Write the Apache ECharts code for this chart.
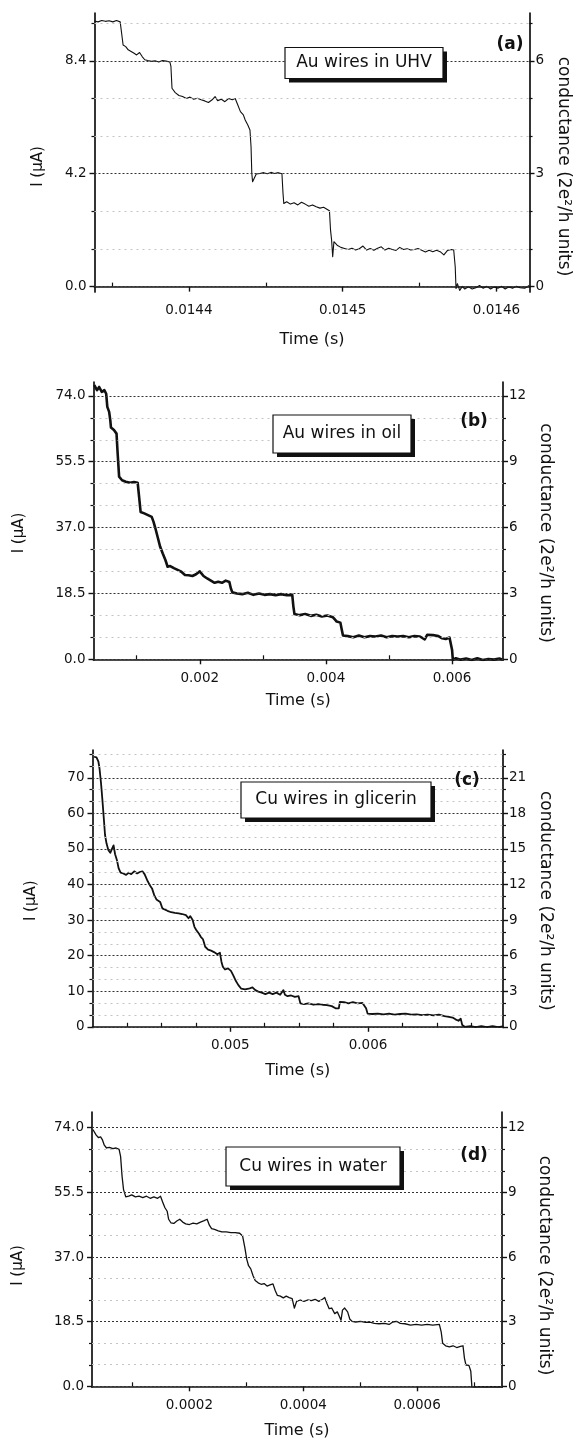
<!DOCTYPE html>
<html>
<head>
<meta charset="utf-8">
<title>Conductance steps in metallic nanowires</title>
<script src="https://cdn.jsdelivr.net/npm/echarts@6/dist/echarts.min.js"></script>
<style>
  html, body { margin: 0; padding: 0; background: #fff; }
  #chart { width: 580px; height: 1440px; }
</style>
</head>
<body>
<div id="chart"></div>
<script>
// ---- (a) Au wires in UHV : time (s), current (uA) ----
const aTime = [0.0143385, 0.0143409, 0.0143433, 0.0143457, 0.0143481, 0.0143505, 0.0143529, 0.0143553, 0.0143565, 0.0143572,
  0.0143589, 0.0143605, 0.0143624, 0.0143641, 0.0143660, 0.0143679, 0.0143696, 0.0143713, 0.0143732, 0.0143756,
  0.0143780, 0.0143804, 0.0143828, 0.0143852, 0.0143876, 0.0143883, 0.0143890, 0.0143911, 0.0143935, 0.0143959,
  0.0143983, 0.0144007, 0.0144031, 0.0144055, 0.0144079, 0.0144103, 0.0144127, 0.0144151, 0.0144170, 0.0144187,
  0.0144211, 0.0144234, 0.0144258, 0.0144282, 0.0144301, 0.0144318, 0.0144335, 0.0144354, 0.0144366, 0.0144383,
  0.0144397, 0.0144404, 0.0144409, 0.0144414, 0.0144426, 0.0144438, 0.0144462, 0.0144486, 0.0144510, 0.0144533,
  0.0144557, 0.0144581, 0.0144605, 0.0144612, 0.0144617, 0.0144636, 0.0144660, 0.0144684, 0.0144708, 0.0144732,
  0.0144756, 0.0144780, 0.0144804, 0.0144828, 0.0144852, 0.0144876, 0.0144900, 0.0144914, 0.0144921, 0.0144928,
  0.0144935, 0.0144943, 0.0144964, 0.0144988, 0.0145012, 0.0145036, 0.0145060, 0.0145084, 0.0145108, 0.0145132,
  0.0145156, 0.0145179, 0.0145203, 0.0145227, 0.0145251, 0.0145275, 0.0145299, 0.0145323, 0.0145347, 0.0145371,
  0.0145395, 0.0145419, 0.0145443, 0.0145467, 0.0145490, 0.0145514, 0.0145538, 0.0145562, 0.0145586, 0.0145610,
  0.0145634, 0.0145658, 0.0145682, 0.0145706, 0.0145722, 0.0145732, 0.0145737, 0.0145746, 0.0145761, 0.0145778,
  0.0145794, 0.0145818, 0.0145842, 0.0145866, 0.0145890, 0.0145914, 0.0145938, 0.0145962, 0.0145986, 0.0146010,
  0.0146033, 0.0146057, 0.0146081, 0.0146105, 0.0146129, 0.0146153, 0.0146184, 0.0146213];
const aCurrent = [9.88, 9.85, 9.90, 9.87, 9.89, 9.85, 9.90, 9.85, 9.80, 8.99,
  8.93, 8.81, 8.75, 8.69, 8.62, 8.71, 8.56, 8.44, 8.41, 8.38,
  8.40, 8.36, 8.41, 8.39, 8.36, 8.19, 7.38, 7.22, 7.11, 7.07,
  7.00, 7.05, 6.97, 7.01, 6.95, 6.91, 6.85, 6.95, 7.07, 6.92,
  6.97, 6.88, 7.00, 6.95, 7.00, 6.76, 6.51, 6.39, 6.20, 6.01,
  5.83, 5.21, 4.21, 3.90, 3.96, 4.19, 4.21, 4.24, 4.20, 4.25,
  4.21, 4.24, 4.20, 3.47, 3.09, 3.16, 3.07, 3.12, 3.04, 3.14,
  3.07, 2.99, 3.04, 2.97, 2.92, 2.95, 2.87, 2.82, 2.10, 1.73,
  1.11, 1.67, 1.54, 1.46, 1.42, 1.38, 1.43, 1.36, 1.41, 1.51,
  1.36, 1.42, 1.35, 1.43, 1.48, 1.36, 1.43, 1.38, 1.35, 1.46,
  1.38, 1.41, 1.36, 1.38, 1.42, 1.35, 1.29, 1.35, 1.30, 1.35,
  1.30, 1.18, 1.35, 1.38, 1.36, 0.73, -0.07, 0.11, -0.14, 0.01,
  -0.09, -0.01, -0.09, -0.04, 0.04, -0.06, 0.01, -0.09, -0.01, -0.06,
  0.01, -0.09, -0.01, -0.06, 0.01, -0.04, -0.06, 0.04];
const aTimeTicks = [0.0144, 0.0145, 0.0146];
const aTimeMinor = [0.01435, 0.01445, 0.01455];
const aCurrentTicks = [0, 4.2, 8.4];
const aCondTicks = [0, 3, 6];
const aCondMinor = [1, 2, 4, 5, 7];

// ---- (b) Au wires in oil ----
const bTime = [0.000328, 0.000370, 0.000405, 0.000446, 0.000487, 0.000516, 0.000534, 0.000563, 0.000581, 0.000592,
  0.000639, 0.000680, 0.000698, 0.000721, 0.000768, 0.000827, 0.000897, 0.000956, 0.001015, 0.001038,
  0.001062, 0.001120, 0.001179, 0.001238, 0.001267, 0.001296, 0.001337, 0.001372, 0.001413, 0.001455,
  0.001490, 0.001531, 0.001589, 0.001648, 0.001707, 0.001765, 0.001824, 0.001883, 0.001941, 0.002000,
  0.002059, 0.002117, 0.002176, 0.002235, 0.002293, 0.002352, 0.002411, 0.002469, 0.002493, 0.002516,
  0.002587, 0.002674, 0.002762, 0.002850, 0.002938, 0.003026, 0.003114, 0.003202, 0.003290, 0.003378,
  0.003466, 0.003484, 0.003501, 0.003584, 0.003672, 0.003760, 0.003847, 0.003935, 0.004023, 0.004111,
  0.004141, 0.004170, 0.004229, 0.004252, 0.004270, 0.004346, 0.004434, 0.004522, 0.004610, 0.004698,
  0.004786, 0.004874, 0.004962, 0.005050, 0.005138, 0.005226, 0.005314, 0.005402, 0.005490, 0.005566,
  0.005607, 0.005695, 0.005783, 0.005842, 0.005900, 0.005959, 0.005988, 0.006000, 0.006012, 0.006059,
  0.006135, 0.006223, 0.006311, 0.006399, 0.006487, 0.006575, 0.006663, 0.006751, 0.006798];
const bCurrent = [77.0, 75.6, 76.5, 75.1, 75.6, 74.6, 70.9, 69.5, 67.2, 65.1,
  64.4, 63.4, 57.8, 51.3, 50.3, 49.9, 49.6, 49.8, 49.6, 45.6,
  41.4, 41.0, 40.5, 40.0, 38.6, 36.8, 34.0, 31.6, 29.7, 27.9,
  26.0, 26.2, 25.6, 25.1, 24.6, 23.7, 23.6, 23.4, 23.9, 24.7,
  23.4, 22.7, 22.1, 21.5, 21.8, 21.5, 22.1, 21.7, 19.9, 18.8,
  18.5, 18.3, 18.7, 18.1, 18.5, 18.1, 18.3, 18.0, 18.3, 18.0,
  18.1, 14.8, 12.7, 12.4, 12.7, 12.2, 12.5, 12.0, 12.3, 11.8,
  11.2, 10.6, 10.3, 8.2, 6.7, 6.5, 6.2, 6.7, 6.2, 6.5,
  6.4, 6.7, 6.2, 6.5, 6.4, 6.5, 6.2, 6.5, 6.4, 5.6,
  6.9, 6.8, 6.5, 5.9, 5.7, 6.1, 5.7, 2.6, -0.2, 0.3,
  -0.1, 0.2, -0.2, 0.3, -0.2, 0.1, -0.1, 0.2, -0.1];
const bTimeTicks = [0.002, 0.004, 0.006];
const bTimeMinor = [0.001, 0.003, 0.005];
const bCurrentTicks = [0, 18.5, 37, 55.5, 74];
const bCondTicks = [0, 3, 6, 9, 12];
const bCondMinor = [1, 2, 4, 5, 7, 8, 10, 11];

// ---- (c) Cu wires in glicerin ----
const cTime = [0.004011, 0.004029, 0.004043, 0.004051, 0.004062, 0.004072, 0.004083, 0.004091, 0.004102, 0.004115,
  0.004129, 0.004142, 0.004153, 0.004164, 0.004177, 0.004190, 0.004204, 0.004223, 0.004244, 0.004263,
  0.004281, 0.004303, 0.004324, 0.004343, 0.004362, 0.004378, 0.004397, 0.004416, 0.004432, 0.004448,
  0.004464, 0.004477, 0.004491, 0.004507, 0.004523, 0.004544, 0.004571, 0.004598, 0.004625, 0.004651,
  0.004678, 0.004697, 0.004710, 0.004727, 0.004740, 0.004753, 0.004772, 0.004786, 0.004802, 0.004818,
  0.004839, 0.004861, 0.004882, 0.004906, 0.004925, 0.004936, 0.004946, 0.004962, 0.004984, 0.005005,
  0.005021, 0.005038, 0.005059, 0.005080, 0.005107, 0.005134, 0.005161, 0.005182, 0.005204, 0.005228,
  0.005255, 0.005282, 0.005308, 0.005335, 0.005362, 0.005386, 0.005397, 0.005416, 0.005442, 0.005469,
  0.005496, 0.005509, 0.005536, 0.005568, 0.005603, 0.005638, 0.005670, 0.005702, 0.005737, 0.005764,
  0.005788, 0.005796, 0.005826, 0.005858, 0.005890, 0.005925, 0.005960, 0.005986, 0.005997, 0.006032,
  0.006072, 0.006113, 0.006153, 0.006193, 0.006233, 0.006273, 0.006314, 0.006354, 0.006394, 0.006434,
  0.006475, 0.006515, 0.006555, 0.006587, 0.006614, 0.006635, 0.006657, 0.006673, 0.006684, 0.006702,
  0.006743, 0.006783, 0.006823, 0.006863, 0.006904, 0.006944, 0.006978];
const cCurrent = [75.9, 75.7, 74.5, 72.6, 68.4, 63.7, 58.1, 53.9, 51.5, 49.7,
  48.9, 50.1, 51.0, 48.5, 46.9, 44.5, 43.3, 43.1, 42.7, 43.3,
  42.9, 43.7, 43.1, 43.5, 43.7, 42.9, 41.2, 39.8, 38.9, 37.0,
  35.8, 36.1, 35.1, 33.3, 33.0, 32.6, 32.2, 32.0, 31.9, 31.7,
  31.4, 30.5, 31.1, 30.0, 28.1, 27.2, 26.2, 25.3, 24.6, 22.5,
  21.7, 21.4, 21.0, 20.4, 20.8, 18.3, 16.9, 16.1, 16.4, 15.7,
  14.5, 13.1, 11.7, 10.7, 10.5, 10.7, 11.1, 10.3, 9.9, 9.6,
  9.2, 9.6, 9.2, 9.6, 9.0, 10.3, 9.0, 8.6, 8.8, 8.4,
  8.6, 6.6, 6.4, 6.6, 6.2, 6.4, 6.2, 6.1, 5.8, 5.2,
  5.2, 7.0, 6.9, 6.6, 6.9, 6.6, 6.7, 5.2, 3.7, 3.6,
  3.7, 3.5, 3.7, 3.4, 3.6, 3.7, 3.4, 3.5, 3.3, 3.4,
  3.2, 3.4, 3.0, 2.8, 2.6, 2.1, 1.7, 2.3, 0.5, 0.0,
  0.2, -0.1, 0.2, -0.1, 0.2, -0.1, 0.1];
const cTimeTicks = [0.005, 0.006];
const cTimeMinor = [0.00425, 0.0045, 0.00475, 0.00525, 0.0055, 0.00575, 0.00625, 0.0065, 0.00675];
const cCurrentTicks = [0, 10, 20, 30, 40, 50, 60, 70];
const cCondTicks = [0, 3, 6, 9, 12, 15, 18, 21];
const cCondMinor = [1, 2, 4, 5, 7, 8, 10, 11, 13, 14, 16, 17, 19, 20, 22, 23];

// ---- (d) Cu wires in water ----
const dTime = [0.0000305, 0.0000338, 0.0000364, 0.0000402, 0.0000441, 0.0000474, 0.0000506, 0.0000545, 0.0000597, 0.0000656,
  0.0000714, 0.0000766, 0.0000792, 0.0000818, 0.0000844, 0.0000883, 0.0000935, 0.0000987, 0.0001052, 0.0001117,
  0.0001182, 0.0001247, 0.0001312, 0.0001377, 0.0001442, 0.0001493, 0.0001532, 0.0001571, 0.0001610, 0.0001636,
  0.0001675, 0.0001727, 0.0001779, 0.0001831, 0.0001883, 0.0001935, 0.0002000, 0.0002065, 0.0002130, 0.0002195,
  0.0002260, 0.0002312, 0.0002351, 0.0002390, 0.0002442, 0.0002507, 0.0002571, 0.0002649, 0.0002727, 0.0002805,
  0.0002883, 0.0002935, 0.0002974, 0.0003007, 0.0003039, 0.0003078, 0.0003117, 0.0003156, 0.0003208, 0.0003260,
  0.0003312, 0.0003364, 0.0003416, 0.0003468, 0.0003507, 0.0003546, 0.0003598, 0.0003649, 0.0003701, 0.0003753,
  0.0003805, 0.0003844, 0.0003883, 0.0003948, 0.0004013, 0.0004078, 0.0004143, 0.0004208, 0.0004273, 0.0004338,
  0.0004377, 0.0004416, 0.0004455, 0.0004500, 0.0004552, 0.0004598, 0.0004637, 0.0004663, 0.0004689, 0.0004727,
  0.0004779, 0.0004818, 0.0004857, 0.0004922, 0.0005007, 0.0005091, 0.0005169, 0.0005247, 0.0005331, 0.0005429,
  0.0005507, 0.0005572, 0.0005637, 0.0005702, 0.0005786, 0.0005883, 0.0005981, 0.0006078, 0.0006176, 0.0006273,
  0.0006390, 0.0006422, 0.0006448, 0.0006500, 0.0006565, 0.0006630, 0.0006695, 0.0006760, 0.0006805, 0.0006831,
  0.0006857, 0.0006909, 0.0006942, 0.0006961, 0.0007020, 0.0007117, 0.0007215, 0.0007312, 0.0007409, 0.0007481];
const dCurrent = [73.5, 73.3, 71.9, 71.2, 71.4, 70.5, 69.0, 68.2, 68.4, 68.0,
  68.2, 67.8, 65.8, 60.1, 56.3, 54.2, 54.4, 54.8, 54.2, 54.4,
  54.0, 54.4, 53.8, 54.2, 53.8, 54.4, 52.7, 51.1, 50.1, 47.8,
  46.8, 46.6, 47.3, 47.8, 47.0, 46.5, 46.3, 46.7, 46.5, 47.0,
  47.4, 47.8, 46.1, 45.1, 44.9, 44.5, 44.2, 44.2, 44.0, 44.0,
  43.8, 43.0, 39.7, 36.4, 34.5, 33.6, 31.7, 30.3, 29.6, 29.2,
  29.4, 28.7, 29.0, 29.3, 27.4, 26.0, 25.8, 25.3, 25.8, 25.4,
  25.1, 22.4, 24.3, 24.7, 24.3, 24.7, 24.5, 24.9, 24.3, 24.9,
  25.4, 23.7, 22.2, 22.4, 20.8, 21.3, 19.9, 18.9, 21.8, 22.4,
  21.3, 19.2, 18.6, 18.4, 18.6, 18.3, 18.4, 18.0, 17.9, 18.0,
  17.7, 18.4, 18.6, 18.0, 17.9, 17.5, 17.7, 17.5, 17.7, 17.5,
  17.7, 15.6, 12.3, 11.6, 11.3, 11.6, 11.1, 11.4, 11.6, 8.0,
  6.1, 6.0, 4.3, -0.1, -0.2, -0.1, -0.2, -0.1, -0.2, -0.1];
const dTimeTicks = [0.0002, 0.0004, 0.0006];
const dTimeMinor = [0.0001, 0.0003, 0.0005, 0.0007];
const dCurrentTicks = [0, 18.5, 37, 55.5, 74];
const dCondTicks = [0, 3, 6, 9, 12];
const dCondMinor = [1, 2, 4, 5, 7, 8, 10, 11];

const FONT = 'DejaVu Sans';
const INK = '#111';

const panels = [
  { tag: '(a)', note: 'Au wires in UHV', time: aTime, current: aCurrent,
    xTicks: aTimeTicks, xMinor: aTimeMinor, yTicks: aCurrentTicks, gTicks: aCondTicks, gMinor: aCondMinor,
    unit: 1.4, xDec: 4, yDec: 1, lineW: 1.1,
    grid: { left: 94.5, top: 13, width: 438, height: 279 },
    xMin: 0.0143386, xMax: 0.0146215, yMin: -0.2, yMax: 10.18,
    yGap: 49, gGap: 24, xGap: 40, shift: 14,
    box: [285, 47.5, 158, 31], tagPos: [510, 45] },
  { tag: '(b)', note: 'Au wires in oil', time: bTime, current: bCurrent,
    xTicks: bTimeTicks, xMinor: bTimeMinor, yTicks: bCurrentTicks, gTicks: bCondTicks, gMinor: bCondMinor,
    unit: 74 / 12, xDec: 3, yDec: 1, lineW: 2.6,
    grid: { left: 93.5, top: 382, width: 409.5, height: 278 },
    xMin: 0.000315, xMax: 0.006807, yMin: -0.2, yMax: 77.9,
    yGap: 67, gGap: 31, xGap: 33, shift: 12,
    box: [273, 415, 138, 38], tagPos: [474, 422] },
  { tag: '(c)', note: 'Cu wires in glicerin', time: cTime, current: cCurrent,
    xTicks: cTimeTicks, xMinor: cTimeMinor, yTicks: cCurrentTicks, gTicks: cCondTicks, gMinor: cCondMinor,
    unit: 10 / 3, xDec: 3, yDec: 0, lineW: 1.8,
    grid: { left: 92.5, top: 750, width: 410.5, height: 277.5 },
    xMin: 0.004, xMax: 0.00698, yMin: -0.2, yMax: 77.8,
    yGap: 54, gGap: 31, xGap: 35, shift: 12,
    box: [241, 782, 190, 36], tagPos: [467, 781] },
  { tag: '(d)', note: 'Cu wires in water', time: dTime, current: dCurrent,
    xTicks: dTimeTicks, xMinor: dTimeMinor, yTicks: dCurrentTicks, gTicks: dCondTicks, gMinor: dCondMinor,
    unit: 74 / 12, xDec: 4, yDec: 1, lineW: 1.3,
    grid: { left: 92, top: 1112, width: 410, height: 277 },
    xMin: 0.000029, xMax: 0.000749, yMin: -0.2, yMax: 78.5,
    yGap: 66, gGap: 30, xGap: 36, shift: 16,
    box: [226, 1147, 174, 39], tagPos: [474, 1156] }
];

const option = {
  backgroundColor: '#fff',
  animation: false,
  grid: [], xAxis: [], yAxis: [], series: [], graphic: []
};

panels.forEach(function (p, i) {
  option.grid.push(Object.assign({ containLabel: false }, p.grid));
  const axisLine = { show: true, lineStyle: { color: INK, width: 1.7 } };
  const noLine = { show: false };
  const lbl = { fontFamily: FONT, fontSize: 13.5, color: INK };

  // x axes: main (labels + major ticks) and minor ticks
  option.xAxis.push({
    type: 'value', gridIndex: i, min: p.xMin, max: p.xMax,
    axisLine: axisLine, splitLine: { show: false },
    axisTick: { show: true, length: 5, lineStyle: { color: INK, width: 1.4 }, customValues: p.xTicks },
    axisLabel: Object.assign({ margin: 11, customValues: p.xTicks,
      formatter: function (v) { return v.toFixed(p.xDec); } }, lbl),
    name: 'Time (s)', nameLocation: 'middle', nameGap: p.xGap,
    nameTextStyle: { fontFamily: FONT, fontSize: 16, color: INK }
  });
  option.xAxis.push({
    type: 'value', gridIndex: i, min: p.xMin, max: p.xMax,
    axisLine: noLine, splitLine: { show: false }, axisLabel: { show: false },
    axisTick: { show: true, length: 4, lineStyle: { color: INK, width: 1.2 }, customValues: p.xMinor }
  });

  const leftMinor = p.gMinor.map(function (g) { return g * p.unit; });
  // left current axis
  option.yAxis.push({
    type: 'value', gridIndex: i, position: 'left', min: p.yMin, max: p.yMax,
    axisLine: axisLine, splitLine: { show: false },
    axisTick: { show: true, length: 5, lineStyle: { color: INK, width: 1.4 }, customValues: p.yTicks },
    axisLabel: Object.assign({ margin: 8, customValues: p.yTicks,
      formatter: function (v) { return v.toFixed(p.yDec); } }, lbl),
    name: 'I (μA)', nameLocation: 'middle', nameGap: p.yGap,
    nameTextStyle: { fontFamily: FONT, fontSize: 15, color: INK, padding: [0, 2 * p.shift, 0, 0] }
  });
  option.yAxis.push({
    type: 'value', gridIndex: i, position: 'left', min: p.yMin, max: p.yMax,
    axisLine: noLine, splitLine: { show: false }, axisLabel: { show: false },
    axisTick: { show: true, length: 3, lineStyle: { color: INK, width: 1.2 }, customValues: leftMinor }
  });
  // right conductance axis
  option.yAxis.push({
    type: 'value', gridIndex: i, position: 'right', min: p.yMin / p.unit, max: p.yMax / p.unit,
    axisLine: axisLine, splitLine: { show: false },
    axisTick: { show: true, length: 5, lineStyle: { color: INK, width: 1.4 }, customValues: p.gTicks },
    axisLabel: Object.assign({ margin: 6, customValues: p.gTicks,
      formatter: function (v) { return String(Math.round(v)); } }, lbl),
    name: 'conductance (2e²/h units)', nameLocation: 'middle', nameGap: p.gGap, nameRotate: -90,
    nameTextStyle: { fontFamily: FONT, fontSize: 17, color: INK, padding: [0, 0, 0, 2 * p.shift] }
  });
  option.yAxis.push({
    type: 'value', gridIndex: i, position: 'right', min: p.yMin / p.unit, max: p.yMax / p.unit,
    axisLine: noLine, splitLine: { show: false }, axisLabel: { show: false },
    axisTick: { show: true, length: 3, lineStyle: { color: INK, width: 1.2 }, customValues: p.gMinor }
  });

  const grids = p.yTicks.map(function (v) {
    return { yAxis: v, lineStyle: { color: '#333', type: [2, 2], width: 1 } };
  }).concat(leftMinor.map(function (v) {
    return { yAxis: v, lineStyle: { color: '#c4c4c4', type: [2, 4], width: 1 } };
  }));

  option.series.push({
    type: 'line', xAxisIndex: 2 * i, yAxisIndex: 4 * i,
    data: p.time.map(function (t, k) { return [t, p.current[k]]; }),
    showSymbol: false, symbol: 'none',
    lineStyle: { color: INK, width: p.lineW, join: 'round' },
    markLine: { silent: true, symbol: ['none', 'none'], label: { show: false }, data: grids },
    z: 3
  });

  // annotation box with drop shadow, and panel tag
  const b = p.box;
  option.graphic.push(
    { type: 'rect', z: 100, shape: { x: b[0] + 4, y: b[1] + 4, width: b[2], height: b[3] }, style: { fill: INK } },
    { type: 'rect', z: 101, shape: { x: b[0], y: b[1], width: b[2], height: b[3] },
      style: { fill: '#fff', stroke: INK, lineWidth: 1.2 } },
    { type: 'text', z: 102, x: b[0] + b[2] / 2, y: b[1] + b[3] / 2,
      style: { text: p.note, fontFamily: FONT, fontSize: 17, fill: INK, align: 'center', verticalAlign: 'middle' } },
    { type: 'text', z: 102, x: p.tagPos[0], y: p.tagPos[1],
      style: { text: p.tag, fontFamily: FONT, fontSize: 17, fontWeight: 'bold', fill: INK, align: 'center', verticalAlign: 'middle' } }
  );
});

const chart = echarts.init(document.getElementById('chart'), null, { renderer: 'canvas' });
chart.setOption(option);
</script>
</body>
</html>
